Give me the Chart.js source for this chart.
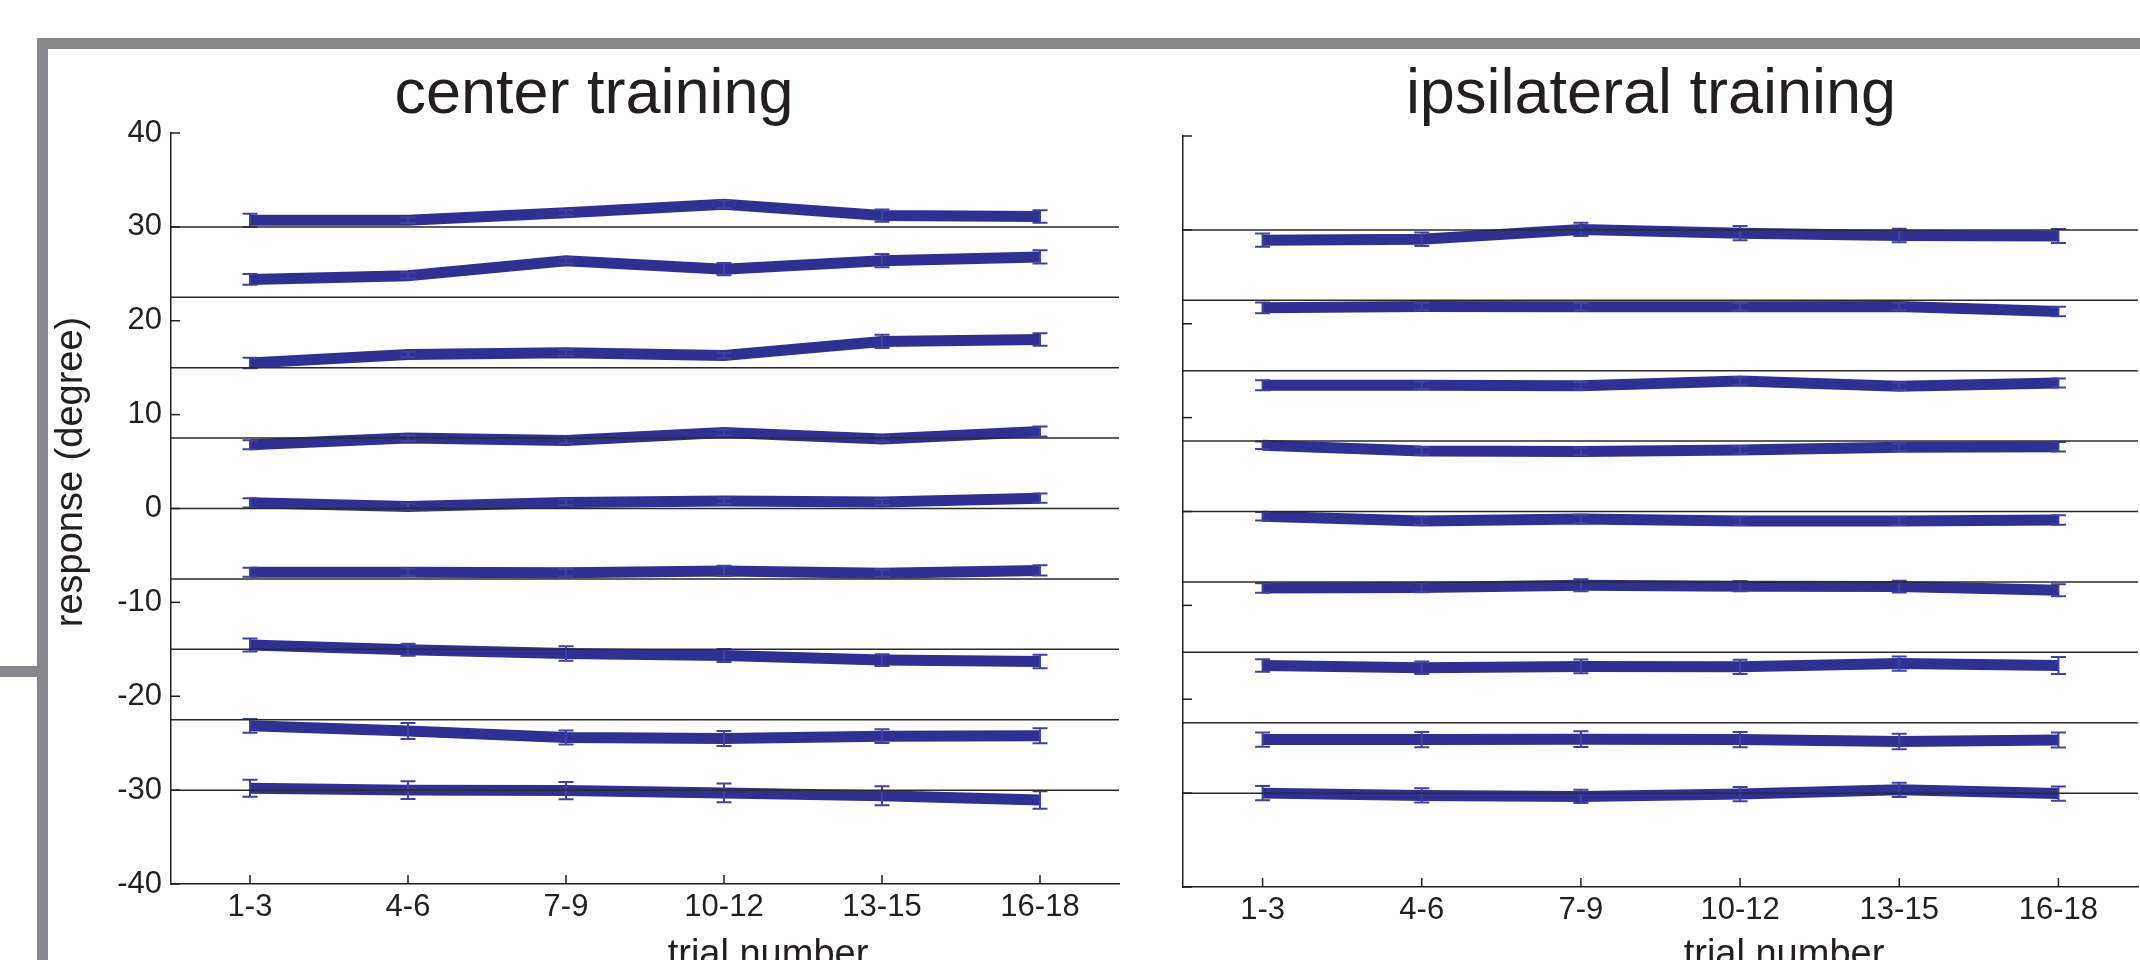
<!DOCTYPE html>
<html>
<head>
<meta charset="utf-8">
<title>center vs ipsilateral training</title>
<script src="https://cdn.jsdelivr.net/npm/chart.js@4.4.1/dist/chart.umd.min.js"></script>
<style>
  html, body { margin: 0; padding: 0; background: #fff; }
  body { width: 2140px; height: 960px; position: relative; overflow: hidden; }
  .frame { position: absolute; background: #86878b; }
  canvas { position: absolute; top: 0; }
</style>
</head>
<body>
<!-- grey panel frame -->
<div class="frame" style="left:37px;top:38px;width:2103px;height:11px"></div>
<div class="frame" style="left:37px;top:38px;width:11px;height:922px"></div>
<div class="frame" style="left:0;top:666px;width:37px;height:11px"></div>

<canvas id="center-chart" width="1150" height="960" style="left:0"></canvas>
<canvas id="ipsi-chart" width="990" height="960" style="left:1150px"></canvas>

<script>
// data
const categories = ['1-3', '4-6', '7-9', '10-12', '13-15', '16-18'];
const yTicks = [-40, -30, -20, -10, 0, 10, 20, 30, 40];
const refLevels = [30, 22.5, 15, 7.5, 0, -7.5, -15, -22.5, -30];

// center training: one row per target
const centerMeans = [
  [30.7, 30.7, 31.5, 32.4, 31.2, 31.1],
  [24.4, 24.8, 26.4, 25.5, 26.4, 26.8],
  [15.5, 16.4, 16.6, 16.3, 17.8, 18.0],
  [6.8, 7.5, 7.25, 8.1, 7.4, 8.2],
  [0.6, 0.2, 0.65, 0.8, 0.7, 1.1],
  [-6.8, -6.8, -6.85, -6.65, -6.9, -6.6],
  [-14.55, -15.05, -15.45, -15.65, -16.15, -16.3],
  [-23.15, -23.7, -24.4, -24.5, -24.25, -24.2],
  [-29.8, -30.0, -30.05, -30.3, -30.6, -31.05]
];
const centerErrors = [
  [0.7, 0.3, 0.3, 0.4, 0.65, 0.67],
  [0.57, 0.3, 0.3, 0.64, 0.7, 0.7],
  [0.57, 0.3, 0.3, 0.3, 0.7, 0.66],
  [0.48, 0.3, 0.3, 0.3, 0.3, 0.53],
  [0.5, 0.3, 0.3, 0.3, 0.3, 0.5],
  [0.48, 0.4, 0.4, 0.55, 0.4, 0.55],
  [0.69, 0.64, 0.78, 0.69, 0.62, 0.71],
  [0.73, 0.85, 0.75, 0.8, 0.73, 0.8],
  [0.9, 0.94, 0.92, 1.0, 1.0, 0.94]
];

// ipsilateral training
const ipsiMeans = [
  [28.9, 29.0, 30.05, 29.65, 29.4, 29.35],
  [21.7, 21.85, 21.8, 21.8, 21.85, 21.3],
  [13.45, 13.45, 13.4, 13.9, 13.35, 13.7],
  [7.05, 6.45, 6.4, 6.55, 6.85, 6.9],
  [-0.5, -1.0, -0.8, -1.0, -1.0, -0.9],
  [-8.15, -8.1, -7.85, -7.95, -8.0, -8.4],
  [-16.4, -16.65, -16.5, -16.55, -16.2, -16.4],
  [-24.3, -24.3, -24.25, -24.3, -24.5, -24.35],
  [-30.0, -30.25, -30.35, -30.1, -29.65, -30.05]
];
const ipsiErrors = [
  [0.71, 0.71, 0.71, 0.76, 0.73, 0.75],
  [0.57, 0.4, 0.4, 0.4, 0.4, 0.5],
  [0.53, 0.4, 0.4, 0.4, 0.4, 0.48],
  [0.4, 0.4, 0.4, 0.4, 0.4, 0.5],
  [0.45, 0.45, 0.45, 0.45, 0.45, 0.5],
  [0.5, 0.5, 0.64, 0.55, 0.62, 0.64],
  [0.67, 0.67, 0.73, 0.76, 0.76, 0.9],
  [0.75, 0.82, 0.83, 0.82, 0.82, 0.8],
  [0.76, 0.76, 0.71, 0.76, 0.76, 0.76]
];

const FONT = '"Liberation Sans", Arial, Helvetica, sans-serif';
const INK = '#231f20';
const LINE_BLUE = '#2e3192';
const ERR_BLUE = '#3e42a2';

// error bars, reference lines, inward ticks and the texts
const panelDecor = {
  id: 'panelDecor',
  afterDatasetsDraw(chart, args, opts) {
    const ctx = chart.ctx;
    const xs = chart.scales.x;
    const ys = chart.scales.y;
    const area = chart.chartArea;
    ctx.save();

    ctx.strokeStyle = ERR_BLUE;
    ctx.lineWidth = 2;
    chart.data.datasets.forEach((ds, s) => {
      ds.data.forEach((v, i) => {
        const e = opts.errors[s][i];
        const px = xs.getPixelForValue(i);
        const top = ys.getPixelForValue(v + e);
        const bot = ys.getPixelForValue(v - e);
        ctx.beginPath();
        ctx.moveTo(px, top); ctx.lineTo(px, bot);
        ctx.moveTo(px - 7.5, top); ctx.lineTo(px + 7.5, top);
        ctx.moveTo(px - 7.5, bot); ctx.lineTo(px + 7.5, bot);
        ctx.stroke();
      });
    });

    ctx.strokeStyle = '#2b2b2b';
    ctx.lineWidth = 1.5;
    refLevels.forEach(v => {
      const py = ys.getPixelForValue(v);
      ctx.beginPath();
      ctx.moveTo(area.left, py);
      ctx.lineTo(area.right, py);
      ctx.stroke();
    });

    ctx.strokeStyle = INK;
    yTicks.forEach(v => {
      const py = ys.getPixelForValue(v);
      ctx.beginPath();
      ctx.moveTo(area.left, py);
      ctx.lineTo(area.left + 9, py);
      ctx.stroke();
    });
    categories.forEach((c, i) => {
      const px = xs.getPixelForValue(i);
      ctx.beginPath();
      ctx.moveTo(px, area.bottom);
      ctx.lineTo(px, area.bottom - 9);
      ctx.stroke();
    });
    ctx.restore();
  },
  afterDraw(chart, args, opts) {
    const ctx = chart.ctx;
    ctx.save();
    ctx.fillStyle = INK;
    ctx.textAlign = 'center';
    ctx.textBaseline = 'alphabetic';
    ctx.font = '63px ' + FONT;
    ctx.fillText(opts.title, opts.titleX, 113);
    ctx.font = '38px ' + FONT;
    ctx.fillText('trial number', opts.xLabelX, 966);
    if (opts.yLabel) {
      ctx.translate(82, 472);
      ctx.rotate(-Math.PI / 2);
      ctx.fillText(opts.yLabel, 0, 0);
    }
    ctx.restore();
  }
};

function makePanel(canvasId, means, errors, cfg) {
  return new Chart(document.getElementById(canvasId), {
    type: 'line',
    data: {
      labels: categories,
      datasets: means.map(row => ({
        data: row,
        borderColor: LINE_BLUE,
        borderWidth: 11,
        borderCapStyle: 'butt',
        borderJoinStyle: 'miter',
        pointRadius: 0,
        tension: 0,
        fill: false
      }))
    },
    options: {
      responsive: false,
      animation: false,
      devicePixelRatio: 1,
      layout: { padding: { top: cfg.top, right: cfg.right, left: 0, bottom: 0 } },
      plugins: {
        legend: { display: false },
        tooltip: { enabled: false },
        panelDecor: {
          errors: errors,
          title: cfg.title,
          titleX: cfg.titleX,
          xLabelX: cfg.xLabelX,
          yLabel: cfg.yLabel
        }
      },
      scales: {
        x: {
          type: 'category',
          offset: true,
          grid: { display: false, drawTicks: false },
          border: { display: true, color: INK, width: 1.5 },
          ticks: {
            color: INK,
            font: { family: FONT, size: 31 },
            padding: 5,
            maxRotation: 0,
            autoSkip: false
          },
          afterFit(scale) { scale.height = cfg.xHeight; }
        },
        y: {
          min: -40,
          max: 40,
          grid: { display: false, drawTicks: false },
          border: { display: true, color: INK, width: 1.5 },
          ticks: {
            display: cfg.showYLabels,
            stepSize: 10,
            color: INK,
            font: { family: FONT, size: 31 },
            padding: 9
          },
          afterFit(scale) { scale.width = cfg.yWidth; }
        }
      }
    },
    plugins: [panelDecor]
  });
}

makePanel('center-chart', centerMeans, centerErrors, {
  top: 133, right: 31, xHeight: 76, yWidth: 171, showYLabels: true,
  title: 'center training', titleX: 594, xLabelX: 768, yLabel: 'response (degree)'
});

makePanel('ipsi-chart', ipsiMeans, ipsiErrors, {
  top: 136, right: 2, xHeight: 73, yWidth: 33, showYLabels: false,
  title: 'ipsilateral training', titleX: 501, xLabelX: 634, yLabel: null
});
</script>
</body>
</html>
